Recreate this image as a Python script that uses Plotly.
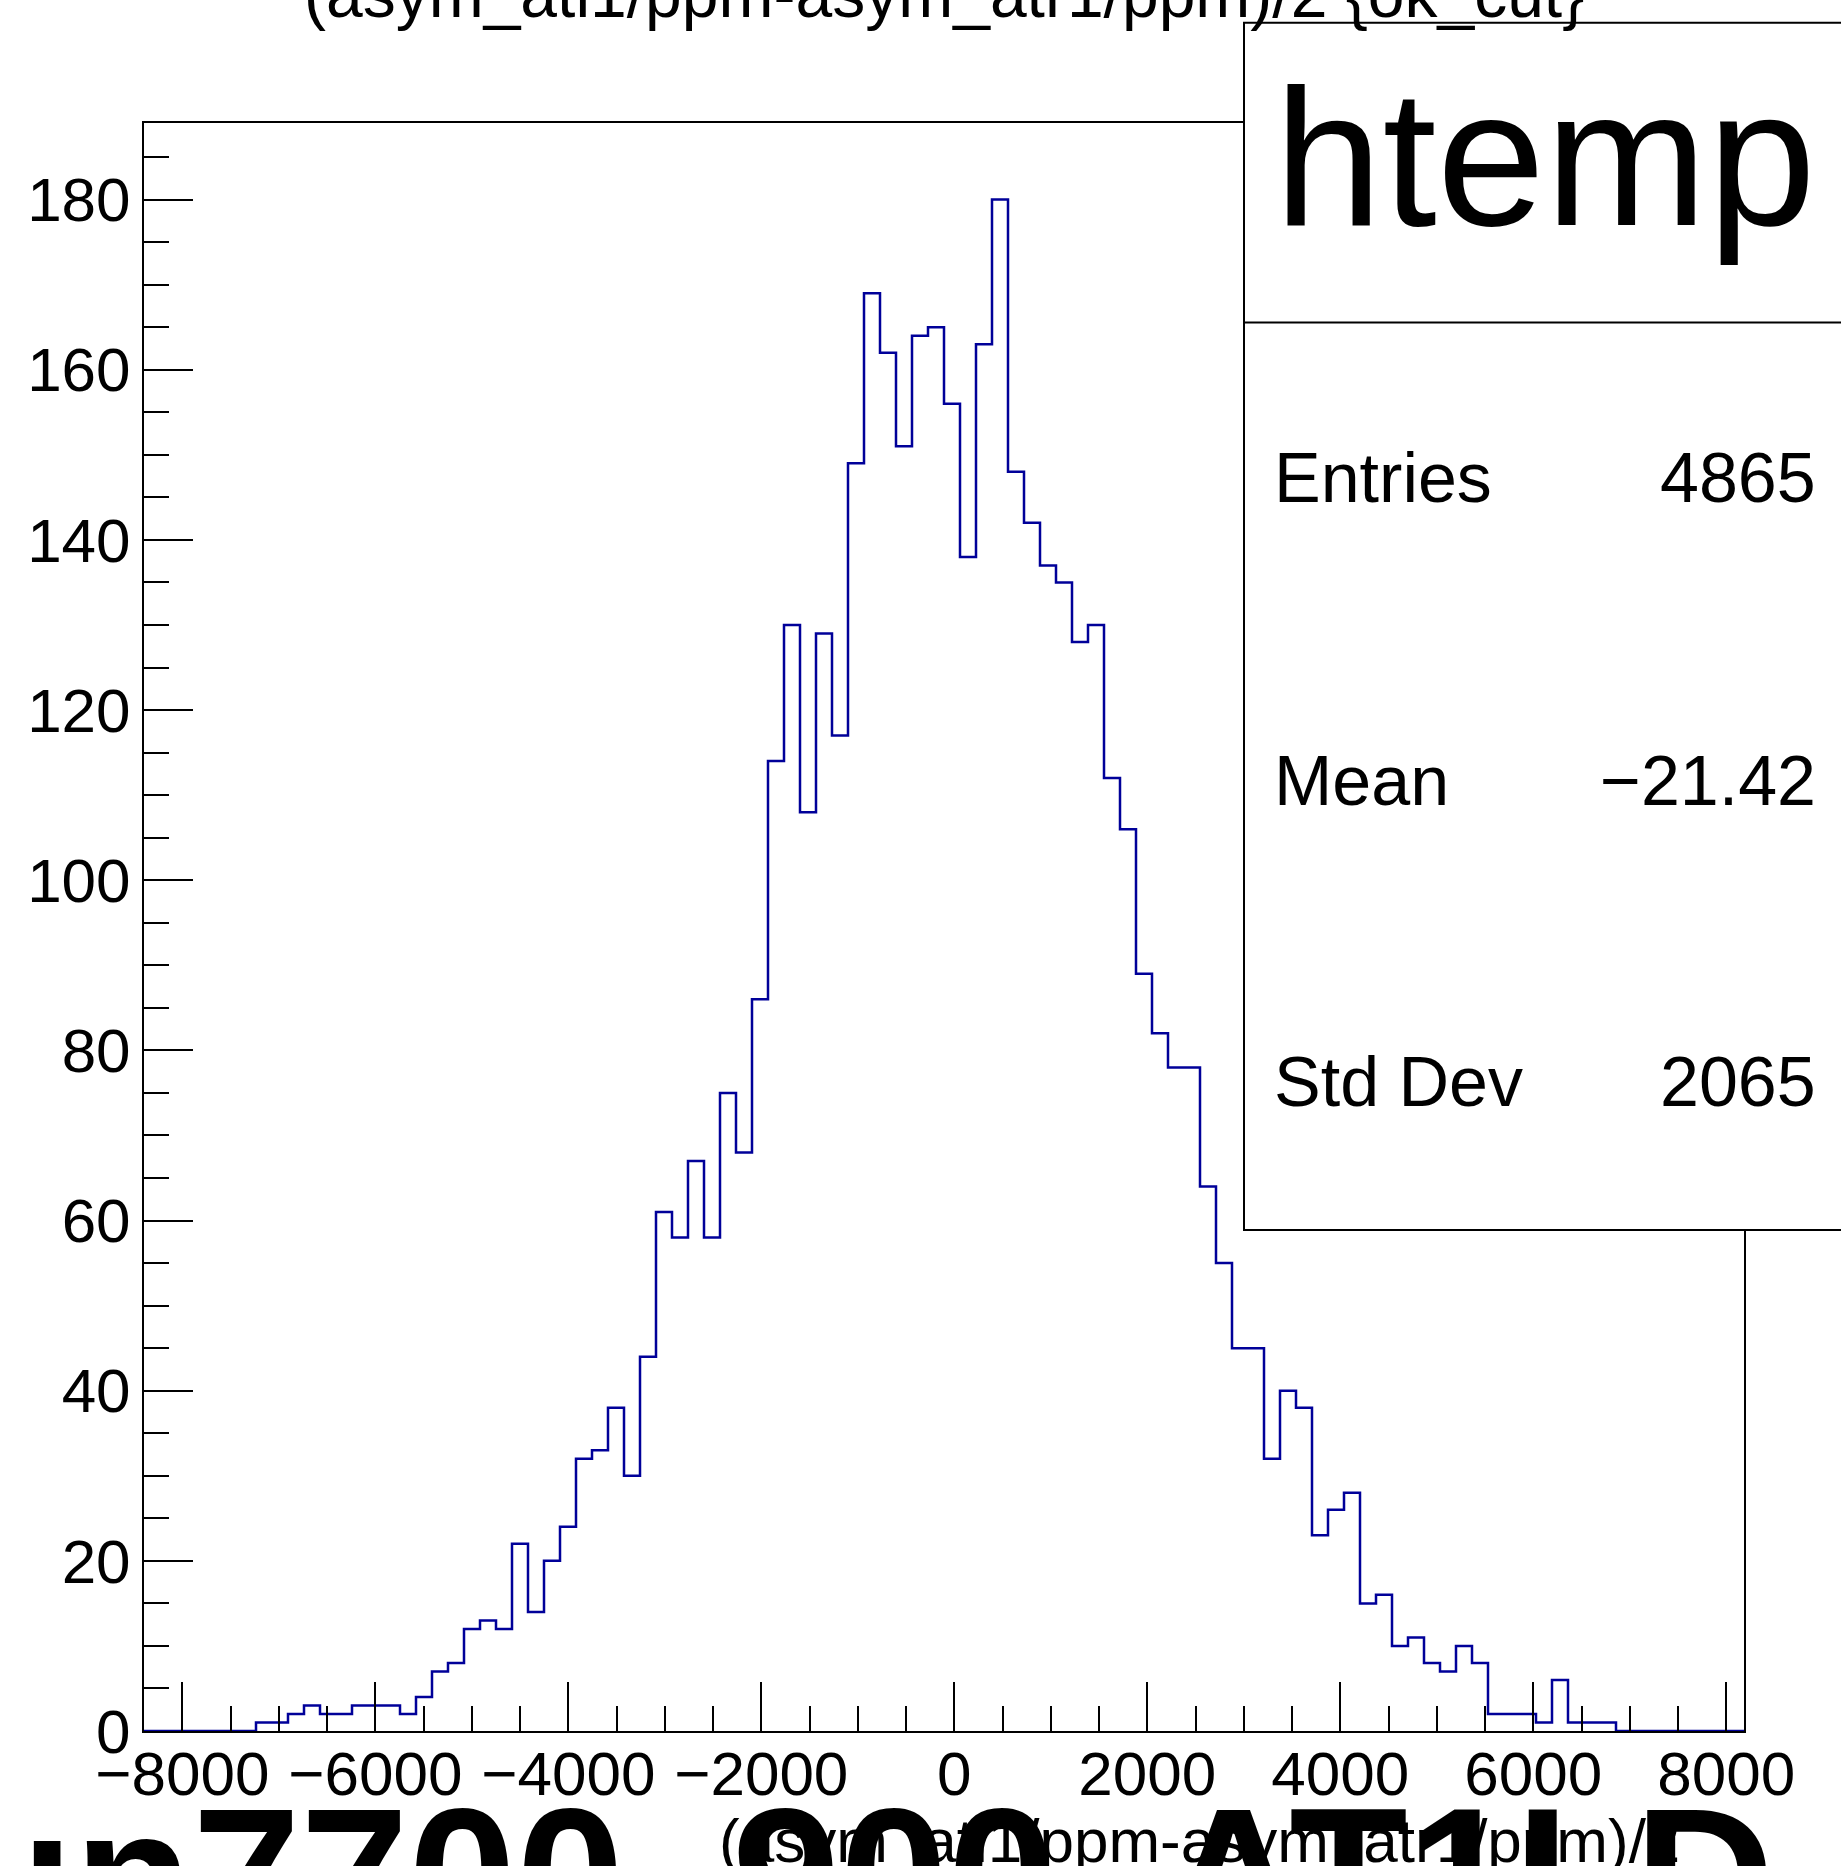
import numpy as np
import plotly.graph_objects as go

# ---------------- data ----------------
n_bins = 100
x_min = -8397.0
x_max = 8184.0
first_filled_bin = 7
bin_counts = [1, 1, 2, 3, 2, 2, 3, 3, 3, 2,
              4, 7, 8, 12, 13, 12, 22, 14, 20, 24,
              32, 33, 38, 30, 44, 61, 58, 67, 58, 75,
              68, 86, 114, 130, 108, 129, 117, 149, 169, 162,
              151, 164, 165, 156, 138, 163, 180, 148, 142, 137,
              135, 128, 130, 112, 106, 89, 82, 78, 78, 64,
              55, 45, 45, 32, 40, 38, 23, 26, 28, 15,
              16, 10, 11, 8, 7, 10, 8, 2, 2, 2,
              1, 6, 1, 1, 1]
x_tick_vals = [-8000, -6000, -4000, -2000, 0, 2000, 4000, 6000, 8000]
x_tick_text = ["\u22128000", "\u22126000", "\u22124000", "\u22122000", "0", "2000", "4000", "6000", "8000"]
y_tick_vals = [0, 20, 40, 60, 80, 100, 120, 140, 160, 180]
y_tick_text = ["0", "20", "40", "60", "80", "100", "120", "140", "160", "180"]
y_max = 189.0

title_text = "(asym_atl1/ppm-asym_atr1/ppm)/2 {ok_cut}"
x_title_text = "(asym_atl1/ppm-asym_atr1/ppm)/2"
big_label = "run7700_900_AT1LD"
stat_name = "htemp"
stat_labels = ["Entries", "Mean", "Std Dev"]
stat_values = ["4865", "\u221221.42", "2065"]

# ---------------- layout geometry (pixels) ----------------
W, H = 1841, 1866
ML, MR, MT, MB = 144, 97, 123, 135
PW = W - ML - MR
PH = H - MT - MB


def px_x(px):
    return (px - ML) / PW


def px_y(py):
    return (H - MB - py) / PH


FONT = "Liberation Sans, Arial, sans-serif"
BLUE = "#000099"

counts = [0] * first_filled_bin + bin_counts
counts = counts + [0] * (n_bins - len(counts))
edges = np.linspace(x_min, x_max, n_bins + 1)
step_y = counts + [counts[-1]]

fig = go.Figure()
fig.add_trace(go.Scatter(
    x=edges, y=step_y, mode="lines", line=dict(color=BLUE, width=2.5, shape="hv"),
    hoverinfo="skip", showlegend=False,
))

axis_common = dict(
    showline=True, linecolor="black", linewidth=2, mirror=True,
    showgrid=False, zeroline=False,
    ticks="inside", tickcolor="black", tickwidth=2, ticklen=49,
    tickfont=dict(family=FONT, size=62, color="black"),
)

fig.update_xaxes(
    range=[x_min, x_max], tickmode="array", tickvals=x_tick_vals, ticktext=x_tick_text,
    minor=dict(ticks="inside", ticklen=25, tickwidth=2, tickcolor="black", dtick=500, tick0=0),
    ticklabelstandoff=-12,
    **axis_common,
)
fig.update_yaxes(
    range=[0, y_max], tickmode="array", tickvals=y_tick_vals, ticktext=y_tick_text,
    minor=dict(ticks="inside", ticklen=25, tickwidth=2, tickcolor="black", dtick=5, tick0=0),
    ticklabelstandoff=-1,
    **axis_common,
)

shapes = [
    dict(type="rect", xref="paper", yref="paper",
         x0=px_x(1244), x1=px_x(1900), y0=px_y(1230), y1=px_y(22.7),
         line=dict(color="black", width=2), fillcolor="white", layer="above"),
    dict(type="line", xref="paper", yref="paper",
         x0=px_x(1244), x1=px_x(1900), y0=px_y(322.5), y1=px_y(322.5),
         line=dict(color="black", width=2), layer="above"),
]


def center_from_baseline(baseline, size):
    return baseline - 0.3465 * size


annotations = []
# top title (clipped by the page edge)
annotations.append(dict(
    text=title_text, xref="paper", yref="paper", x=px_x(944), y=px_y(center_from_baseline(17, 66)),
    xanchor="center", yanchor="middle", showarrow=False,
    font=dict(family=FONT, size=66, color="black")))
# stats box title
annotations.append(dict(
    text=stat_name, xref="paper", yref="paper", x=px_x(1272), y=px_y(center_from_baseline(225, 195)),
    xanchor="left", yanchor="middle", showarrow=False,
    font=dict(family=FONT, size=195, color="black")))
stat_baselines = [502, 805, 1106]
for lab, val, bl in zip(stat_labels, stat_values, stat_baselines):
    cy = px_y(center_from_baseline(bl, 70))
    annotations.append(dict(
        text=lab, xref="paper", yref="paper", x=px_x(1272), y=cy,
        xanchor="left", yanchor="middle", showarrow=False,
        font=dict(family=FONT, size=70, color="black")))
    annotations.append(dict(
        text=val, xref="paper", yref="paper", x=px_x(1818), y=cy,
        xanchor="right", yanchor="middle", showarrow=False,
        font=dict(family=FONT, size=70, color="black")))
# big bold label at the bottom (clipped by the page edge)
annotations.append(dict(
    text=big_label, xref="paper", yref="paper", x=px_x(-122), y=px_y(center_from_baseline(1944, 194)),
    xanchor="left", yanchor="middle", showarrow=False,
    font=dict(family=FONT, size=194, color="black", weight="bold")))
# x axis title
annotations.append(dict(
    text=x_title_text, xref="paper", yref="paper", x=px_x(1682), y=px_y(center_from_baseline(1862, 62)),
    xanchor="right", yanchor="middle", showarrow=False,
    font=dict(family=FONT, size=62, color="black")))

fig.update_layout(
    width=W, height=H, autosize=False,
    margin=dict(l=ML, r=MR, t=MT, b=MB, pad=0),
    paper_bgcolor="white", plot_bgcolor="white",
    shapes=shapes, annotations=annotations, showlegend=False,
)

fig.write_html("out.html", config={"displayModeBar": False},
               post_script="document.body.style.margin='0';document.body.style.overflow='hidden';")
